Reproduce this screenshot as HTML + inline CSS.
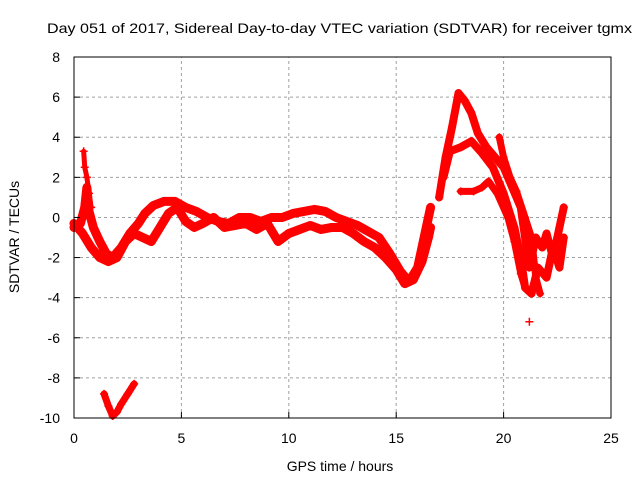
<!DOCTYPE html>
<html><head><meta charset="utf-8"><style>
body{margin:0;background:#fff;}
svg{display:block;font-family:"Liberation Sans",Arial,sans-serif;}
</style></head><body>
<svg id="chart" width="640" height="480" viewBox="0 0 640 480">
<rect width="640" height="480" fill="#fff"/>
<g id="grid"></g>
<g id="marks"></g>
<rect x="74" y="57" width="537" height="361" fill="none" stroke="#000" stroke-width="1"/>
<g id="ticks"></g>
<text x="47" y="33" font-size="14" textLength="585" lengthAdjust="spacingAndGlyphs">Day 051 of 2017, Sidereal Day-to-day VTEC variation (SDTVAR) for receiver tgmx</text>
<text x="340" y="471" font-size="14" text-anchor="middle">GPS time / hours</text>
<text transform="translate(19,237) rotate(-90)" font-size="14" text-anchor="middle">SDTVAR / TECUs</text>
</svg>
<script>
const xTicks=[0,5,10,15,20,25];
const yTicks=[-10,-8,-6,-4,-2,0,2,4,6,8];
const traceUpperX=[0,0.3,0.5,0.6,0.7,0.9,1.2,1.5,1.8,2.2,2.6,3,3.3,3.7,4.2,4.7,5.2,5.7,6.2,6.7,7.2,7.7,8.2,8.7,9.2,9.7,10.2,10.7,11.2,11.7,12.2,12.7,13.2,13.7,14.2,14.7,15.2,15.6,16,16.3,16.6];
const traceUpperY=[-0.5,-0.3,0.5,1.5,0.3,-0.5,-1.2,-1.8,-2,-1.5,-0.8,-0.3,0.2,0.6,0.8,0.8,0.5,0.3,0,-0.2,-0.3,0,0,-0.2,0,0,0.2,0.3,0.4,0.3,0,-0.2,-0.4,-0.7,-1,-1.8,-2.7,-3.2,-2.5,-1,0.5];
const traceLowerX=[0,0.4,0.8,1.2,1.6,2,2.4,2.8,3.2,3.6,4,4.4,4.8,5.2,5.6,6,6.5,7,7.5,8,8.5,9,9.5,10,10.5,11,11.5,12,12.5,13,13.5,14,14.5,15,15.4,15.8,16.2,16.5,16.6];
const traceLowerY=[-0.3,-0.8,-1.5,-2,-2.2,-2,-1.2,-0.8,-1,-1.2,-0.5,0.2,0.5,-0.2,-0.5,-0.3,0,-0.5,-0.4,-0.3,-0.6,-0.3,-1.2,-0.8,-0.6,-0.4,-0.6,-0.5,-0.5,-0.8,-1.2,-1.5,-2,-2.6,-3.3,-3.1,-2.2,-1,-0.5];
const spikeX=[0.45,0.5,0.6,0.7,0.8];
const spikeY=[3.3,2.5,2,1.2,0.5];
const nightX=[1.4,1.6,1.8,2,2.2,2.5,2.8];
const nightY=[-8.8,-9.4,-9.9,-9.7,-9.3,-8.8,-8.3];
const eveAX=[17,17.3,17.6,17.9,18.2,18.5,18.8,19.2,19.6,20,20.4,20.8,21,21.2,21.5,21.8,22,22.3,22.6,22.8];
const eveAY=[1,3,4.5,6.2,5.8,5.2,4.2,3.5,3,2.5,1.5,0.5,-1,-2.5,-1,-1.5,-0.8,-2,-0.5,0.5];
const eveBX=[17.2,17.5,18,18.5,19,19.5,20,20.5,20.8,21,21.3,21.6,22,22.3,22.6,22.8];
const eveBY=[2,3.3,3.5,3.8,3.2,2.5,1.2,-0.5,-2,-3.5,-3.8,-2.5,-3,-1.5,-2.5,-1];
const eveCX=[18,18.6,19,19.3,19.7,20.2,20.5,20.8,21];
const eveCY=[1.3,1.3,1.5,1.8,1.2,0,-1.2,-2.8,-3.5];
const eveDX=[19.8,20,20.3,20.6,21,21.3,21.5,21.7];
const eveDY=[4,3,2,1.3,0,-1,-3,-3.8];
const outlierX=[21.2];
const outlierY=[-5.2];

const X0=74,X1=611,Y0=418,Y1=57;
function sx(v){return X0+(v-0)/(25-0)*(X1-X0);}
function sy(v){return Y0-(v+10)/(18)*(Y0-Y1);}
const NS="http://www.w3.org/2000/svg";
const grid=document.getElementById('grid'),ticks=document.getElementById('ticks'),marks=document.getElementById('marks');
function mk(t,a){const e=document.createElementNS(NS,t);for(const k in a)e.setAttribute(k,a[k]);return e;}
xTicks.forEach(v=>{
  const x=sx(v);
  if(v>0&&v<25){const g=mk('line',{x1:x,y1:Y0,x2:x,y2:Y1,stroke:'#a0a0a0','stroke-dasharray':'3,3'});
  
  grid.appendChild(g);}
  const t=mk('text',{x:x,y:Y0+25,'font-size':14,'text-anchor':'middle'});t.textContent=v;
  
  ticks.appendChild(t);
  const tk=mk('line',{x1:x,y1:Y0,x2:x,y2:Y0-6,stroke:'#000'});ticks.appendChild(tk);
});
yTicks.forEach(v=>{
  const y=sy(v);
  if(v>-10&&v<8){const g=mk('line',{x1:X0,y1:y,x2:X1,y2:y,stroke:'#a0a0a0','stroke-dasharray':'3,3'});
  
  grid.appendChild(g);}
  const t=mk('text',{x:X0-14,y:y+5,'font-size':14,'text-anchor':'end'});t.textContent=v;
  
  ticks.appendChild(t);
  const tk=mk('line',{x1:X0,y1:y,x2:X0+6,y2:y,stroke:'#000'});ticks.appendChild(tk);
});
function drawTrace(xs,ys,name,w){
  const pts=xs.map((x,i)=>sx(x)+','+sy(ys[i])).join(' ');
  if(xs.length>1){const p=mk('polyline',{points:pts,fill:'none',stroke:'#f00','stroke-width':w,'stroke-linejoin':'round','stroke-linecap':'round'});
  
  marks.appendChild(p);}
  xs.forEach((x,i)=>{
    const cx=sx(x),cy=sy(ys[i]);
    const m=mk('path',{d:`M${cx-4},${cy}H${cx+4}M${cx},${cy-4}V${cy+4}`,stroke:'#f00','stroke-width':1.5});
    
    marks.appendChild(m);
  });
}
drawTrace(traceUpperX,traceUpperY,'upper-trace',9);
drawTrace(traceLowerX,traceLowerY,'lower-trace',9);
drawTrace(spikeX,spikeY,'early-spike',5);
drawTrace(nightX,nightY,'night-trace',7);
drawTrace(eveAX,eveAY,'evening-trace-a',8);
drawTrace(eveBX,eveBY,'evening-trace-b',8);
drawTrace(eveCX,eveCY,'evening-trace-c',7);
drawTrace(eveDX,eveDY,'evening-trace-d',7);
drawTrace(outlierX,outlierY,'outlier',4);
</script>
</body></html>
